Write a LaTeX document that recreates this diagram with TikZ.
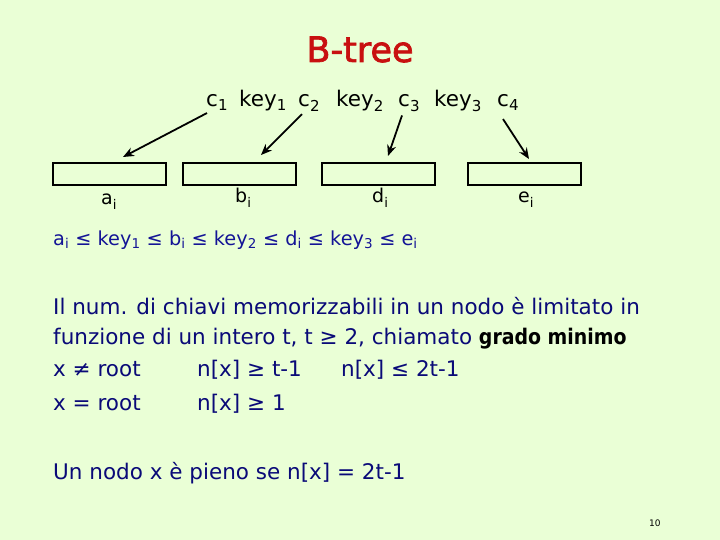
\documentclass[tikz,border=0pt]{standalone}
\usepackage{fontspec}
\setmainfont{DejaVu Sans}
\newfontfamily\fbfont[FakeBold=2]{DejaVu Sans}
\usetikzlibrary{arrows.meta}
\definecolor{bgc}{RGB}{234,255,214}
\definecolor{titlered}{RGB}{200,16,16}
\definecolor{navy}{RGB}{10,10,120}
\definecolor{ineqblue}{RGB}{20,20,150}
\newcommand{\sbs}[1]{\textsubscript{#1}}
\tikzset{
  txt/.style={inner sep=0pt, anchor=base west},
  keytok/.style={txt, font=\fontsize{21.5}{26}\selectfont, text=black},
  nodebox/.style={draw=black, line width=2pt, minimum width=113pt, minimum height=22pt, inner sep=0pt, fill=none},
  lbl/.style={txt, font=\fontsize{19}{22}\selectfont, text=black},
  ptr/.style={line width=1.8pt, -{Stealth[length=11pt,width=9pt]}},
  para/.style={txt, font=\fontsize{21.5}{25}\selectfont, text=navy},
}
\begin{document}
\begin{tikzpicture}[x=1pt,y=-1pt]
\fill[bgc] (0,0) rectangle (720,540);
\useasboundingbox (0,0) rectangle (720,540);
% title
\node[inner sep=0pt, anchor=base, font=\fbfont\fontsize{35}{40}\selectfont, text=titlered] (title) at (360,62) {B-tree};
% key line tokens
\node[keytok] (c1) at (206,107) {c\sbs{1}};
\node[keytok] (k1) at (239,107) {key\sbs{1}};
\node[keytok] (c2) at (298,107) {c\sbs{2}};
\node[keytok] (k2) at (336,107) {key\sbs{2}};
\node[keytok] (c3) at (398,107) {c\sbs{3}};
\node[keytok] (k3) at (434,107) {key\sbs{3}};
\node[keytok] (c4) at (497,107) {c\sbs{4}};
% boxes
\node[nodebox] (b1) at (109.5,174) {};
\node[nodebox] (b2) at (239,174) {};
\node[nodebox] (b3) at (378.5,174) {};
\node[nodebox] (b4) at (524,174) {};
% labels
\node[lbl] (la) at (101,205) {a\sbs{i}};
\node[lbl] (lb) at (235,203) {b\sbs{i}};
\node[lbl] (ld) at (372,203) {d\sbs{i}};
\node[lbl] (le) at (518,203) {e\sbs{i}};
% arrows
\coordinate (s1) at ([xshift=1pt,yshift=-2pt]c1.south west);
\coordinate (s2) at ([xshift=4pt,yshift=-3pt]c2.south west);
\coordinate (s3) at ([xshift=4pt,yshift=-4pt]c3.south west);
\coordinate (s4) at ([xshift=6pt,yshift=-8pt]c4.south west);
\draw[ptr] (s1) -- ([xshift=13.5pt,yshift=5pt]b1.north);
\draw[ptr] (s2) -- ([xshift=22pt,yshift=7pt]b2.north);
\draw[ptr] (s3) -- ([xshift=9.5pt,yshift=6pt]b3.north);
\draw[ptr] (s4) -- ([xshift=5pt,yshift=3pt]b4.north);
% inequality
\node[txt, font=\fontsize{19.3}{22}\selectfont, text=ineqblue] (ineq) at (53,245) {a\sbs{i} ≤ key\sbs{1} ≤ b\sbs{i} ≤ key\sbs{2} ≤ d\sbs{i} ≤ key\sbs{3} ≤ e\sbs{i}};
% paragraph
\node[para] (p1) at (53,314) {Il num. di chiavi memorizzabili in un nodo è limitato in};
\node[para] (p2) at (53,344) {funzione di un intero t, t ≥ 2, chiamato \textcolor{black}{\scalebox{0.88}[1]{\bfseries grado minimo}}};
\node[para] (p3a) at (53,376) {x ≠ root};
\node[para] (p3b) at (197,376) {n[x] ≥ t-1};
\node[para] (p3c) at (341,376) {n[x] ≤ 2t-1};
\node[para] (p4a) at (53,410) {x = root};
\node[para] (p4b) at (197,410) {n[x] ≥ 1};
\node[para] (p5) at (53,479) {Un nodo x è pieno se n[x] = 2t-1};
\node[txt, font=\fontsize{9}{10}\selectfont, text=black] (pg) at (649,526) {10};
\end{tikzpicture}
\end{document}
